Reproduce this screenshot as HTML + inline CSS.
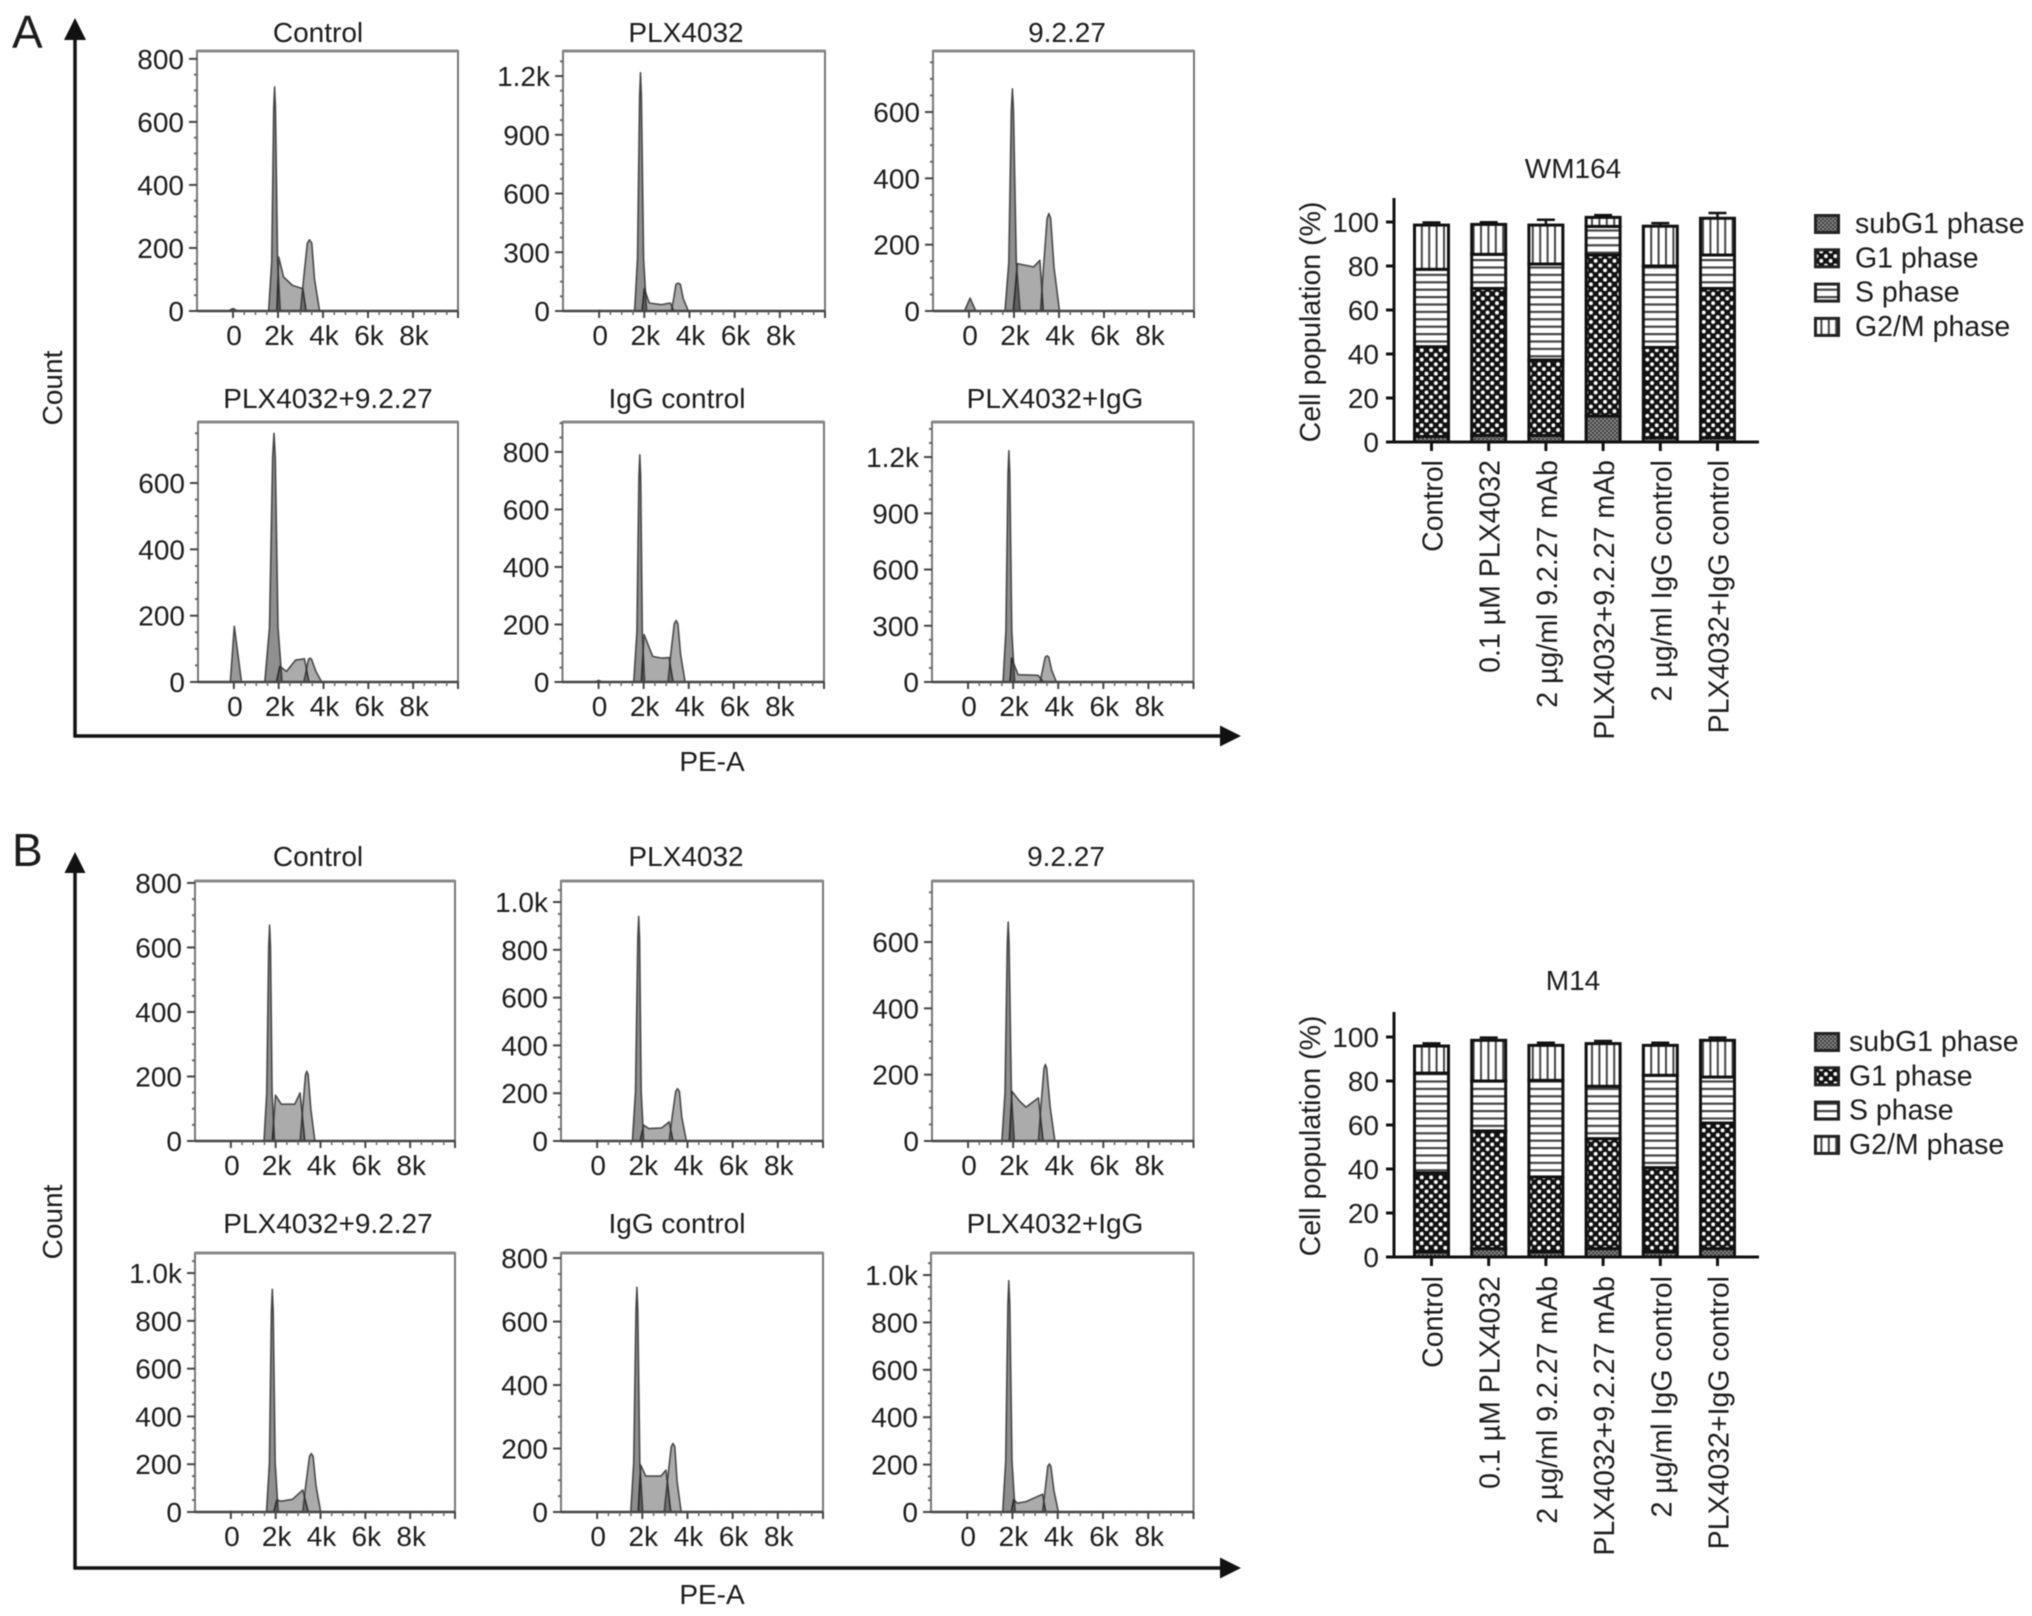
<!DOCTYPE html>
<html>
<head>
<meta charset="utf-8">
<title>Cell cycle flow cytometry</title>
<style>
html,body{margin:0;padding:0;background:#fff;}
svg{display:block;filter:blur(0.55px);}
text{font-family:"Liberation Sans",Arial,sans-serif;fill:#1c1c1c;font-size:28px;}
</style>
</head>
<body>
<svg id="fig" xmlns="http://www.w3.org/2000/svg" width="2032" height="1616" viewBox="0 0 2032 1616">
<defs>
<pattern id="pat-sub" patternUnits="userSpaceOnUse" width="4" height="4"><rect width="4" height="4" fill="#8a8a8a"/><rect width="2" height="2" fill="#3c3c3c"/><rect x="2" y="2" width="2" height="2" fill="#3c3c3c"/></pattern>
<pattern id="pat-g1" patternUnits="userSpaceOnUse" width="9.4" height="9.4"><rect width="9.4" height="9.4" fill="#111"/><circle cx="2.35" cy="2.35" r="1.95" fill="#fff"/><circle cx="7.05" cy="7.05" r="1.95" fill="#fff"/></pattern>
<pattern id="pat-s" patternUnits="userSpaceOnUse" width="8" height="7.4"><rect width="8" height="7.4" fill="#fff"/><rect y="0" width="8" height="2.2" fill="#444"/></pattern>
<pattern id="pat-g2" patternUnits="userSpaceOnUse" width="7.4" height="8"><rect width="7.4" height="8" fill="#fff"/><rect x="0" width="2" height="8" fill="#444"/></pattern>
</defs>
<rect width="2032" height="1616" fill="#fff"/>
<text x="12" y="48" style="font-size:46px">A</text>
<text x="12" y="866" style="font-size:46px">B</text>
<g stroke="#111" stroke-width="3.5" fill="#111">
<line x1="75" y1="38" x2="75" y2="737"/>
<line x1="73.5" y1="736" x2="1222" y2="736"/>
<polygon stroke="none" points="75,18 64,40 86,40"/>
<polygon stroke="none" points="1241,736 1220,725.5 1220,746.5"/>
</g>
<g stroke="#111" stroke-width="3.5" fill="#111">
<line x1="75" y1="871" x2="75" y2="1569"/>
<line x1="73.5" y1="1568" x2="1222" y2="1568"/>
<polygon stroke="none" points="75,852 64.5,873 85.5,873"/>
<polygon stroke="none" points="1241,1568 1220,1557.5 1220,1578.5"/>
</g>
<text text-anchor="middle" transform="translate(62,388) rotate(-90)">Count</text>
<text text-anchor="middle" transform="translate(62,1222) rotate(-90)">Count</text>
<text text-anchor="middle" x="712" y="771">PE-A</text>
<text text-anchor="middle" x="712" y="1604">PE-A</text>
<g id="hist-layer"></g>
<g id="bar-layer"></g>
</svg>
<script>
// ---------- histogram data (PE-A in thousands, counts) ----------
const panelTitles = ['Control','PLX4032','9.2.27','PLX4032+9.2.27','IgG control','PLX4032+IgG','Control','PLX4032','9.2.27','PLX4032+9.2.27','IgG control','PLX4032+IgG'];
const xTickValues = [0,2,4,6,8];
const xTickLabels = ['0','2k','4k','6k','8k'];
const yTickValues = [
 [0,200,400,600,800],[0,300,600,900,1200],[0,200,400,600],
 [0,200,400,600],[0,200,400,600,800],[0,300,600,900,1200],
 [0,200,400,600,800],[0,200,400,600,800,1000],[0,200,400,600],
 [0,200,400,600,800,1000],[0,200,400,600,800],[0,200,400,600,800,1000]];
const yTickLabels = [
 ['0','200','400','600','800'],['0','300','600','900','1.2k'],['0','200','400','600'],
 ['0','200','400','600'],['0','200','400','600','800'],['0','300','600','900','1.2k'],
 ['0','200','400','600','800'],['0','200','400','600','800','1.0k'],['0','200','400','600'],
 ['0','200','400','600','800','1.0k'],['0','200','400','600','800'],['0','200','400','600','800','1.0k']];
const yDomainMax = [825,1328,784,784,904,1387,806,1088,784,1084,816,1093];
const debrisX = [[-0.2,0,0.2],[-0.1,0,0.1],[-0.2,0.05,0.3],[-0.16,0.02,0.34],[-0.15,0,0.15],[-0.1,0,0.1],[-0.1,0,0.1],[-0.1,0,0.1],[-0.1,0,0.1],[-0.1,0,0.1],[-0.1,0,0.1],[-0.1,0,0.1]];
const debrisY = [[0,8,0],[0,3,0],[0,39,0],[0,168,0],[0,6,0],[0,2,0],[0,1,0],[0,3,0],[0,1,0],[0,3,0],[0,1,0],[0,2,0]];
const g1X = [
 [1.58,1.72,1.81,1.85,1.89,1.98,2.1],[1.57,1.7,1.79,1.83,1.87,1.97,2.1],[1.6,1.77,1.88,1.93,1.98,2.1,2.27],
 [1.38,1.59,1.73,1.79,1.85,1.97,2.15],[1.56,1.7,1.79,1.83,1.87,1.94,2.04],[1.55,1.68,1.77,1.81,1.85,1.94,2.07],
 [1.48,1.6,1.69,1.73,1.77,1.84,1.95],[1.56,1.7,1.8,1.84,1.88,1.95,2.06],[1.5,1.64,1.74,1.78,1.82,1.92,2.05],
 [1.59,1.72,1.81,1.85,1.89,1.98,2.11],[1.49,1.62,1.72,1.76,1.8,1.89,2.02],[1.57,1.7,1.8,1.84,1.88,1.98,2.12]];
const g1Y = [
 [0,156,640,711,640,156,0],[0,268,1095,1217,1095,268,0],[0,147,603,670,603,147,0],
 [0,165,675,750,675,165,0],[0,174,711,790,711,174,0],[0,271,1111,1234,1111,271,0],
 [0,147,602,669,602,147,0],[0,207,846,940,846,207,0],[0,145,594,660,594,145,0],
 [0,205,839,932,839,205,0],[0,156,637,708,637,156,0],[0,215,878,976,878,215,0]];
const sX = [
 [1.95,2.03,2.25,2.65,3.1,3.25],[1.9,2.0,2.22,2.75,3.15,3.3],[1.97,2.15,2.87,3.15,3.3],
 [1.9,2.05,2.35,2.75,3.15,3.35],[1.9,2.02,2.4,2.8,3.13,3.3],[1.86,1.93,2.22,3.1,3.35],
 [1.85,1.99,2.25,2.85,3.09,3.3],[1.9,2.06,2.29,2.86,3.19,3.36],[1.83,1.95,2.26,2.57,3.12,3.33],
 [1.91,2.05,2.25,2.75,3.21,3.45],[1.82,1.93,2.15,2.82,3.05,3.26],[1.95,2.05,2.22,2.6,3.33,3.47]];
const sY = [
 [0,171,108,81,71,0],[0,114,41,32,41,0],[0,143,133,153,0],
 [0,47,32,66,70,0],[0,165,89,83,85,0],[0,128,39,36,0],
 [0,142,114,114,149,0],[0,66,52,55,80,0],[0,150,122,102,130,0],
 [0,50,45,53,92,0],[0,148,113,113,132,0],[0,53,37,44,75,0]];
const g2X = [
 [3.0,3.14,3.3,3.4,3.5,3.62,3.85],[3.2,3.3,3.4,3.5,3.6,3.72,3.95],[3.18,3.31,3.47,3.55,3.63,3.78,4.02],
 [3.12,3.22,3.33,3.4,3.47,3.66,3.92],[3.08,3.2,3.36,3.44,3.52,3.64,3.84],[3.19,3.3,3.42,3.5,3.58,3.71,3.92],
 [3.09,3.2,3.33,3.39,3.45,3.57,3.75],[3.19,3.32,3.48,3.56,3.64,3.75,3.95],[3.12,3.23,3.37,3.43,3.49,3.64,3.85],
 [3.21,3.34,3.51,3.59,3.67,3.8,4.01],[2.97,3.11,3.28,3.36,3.44,3.54,3.72],[3.33,3.44,3.56,3.63,3.7,3.83,4.03]];
const g2Y = [
 [0,102,215,226,215,102,0],[0,64,136,143,136,64,0],[0,132,279,294,279,132,0],
 [0,32,68,72,68,32,0],[0,96,203,214,203,96,0],[0,63,133,140,133,63,0],
 [0,97,205,216,205,97,0],[0,99,208,219,208,99,0],[0,104,219,231,219,104,0],
 [0,110,233,245,233,110,0],[0,97,205,216,205,97,0],[0,91,193,203,193,91,0]];

// ---------- stacked bar data (percent) ----------
const barCategories = ['Control','0.1 µM PLX4032','2 µg/ml 9.2.27 mAb','PLX4032+9.2.27 mAb','2 µg/ml IgG control','PLX4032+IgG control'];
const phaseNames = ['subG1 phase','G1 phase','S phase','G2/M phase'];
const barTicks = [0,20,40,60,80,100];
const wmSubG1 = [2.5,3,3,11.8,2,2];
const wmG1 = [40.8,66.8,34.3,73.2,41,67.8];
const wmS = [35.2,15.5,43.6,13,37,15.2];
const wmG2M = [20.1,13.6,17.7,4.1,18.1,16.7];
const wmErrSub = [1,1,1,3,1,1];
const wmErrG1 = [2,2,1,3,1.5,1.5];
const wmErrS = [1.5,1.5,1,0.5,1,1.5];
const wmErrG2M = [1.2,1,2.4,1,1.4,2.4];
const mSubG1 = [2.3,3.8,2.3,3.8,2.3,3.8];
const mG1 = [35.9,53.5,34.1,50,38.3,57.1];
const mS = [45.4,22.7,43.9,23.8,42,20.9];
const mG2M = [12.3,18.5,15.9,19.4,13.6,16.7];
const mErrSub = [0.8,0.8,0.8,0.8,0.8,0.8];
const mErrG1 = [1,1.5,1.5,1,1.5,1];
const mErrS = [1,0.8,0.8,1,1,1];
const mErrG2M = [1.2,1.2,1.2,1.2,1.2,1.2];

// ---------- layout (not data) ----------
const SVGNS = 'http://www.w3.org/2000/svg';
const panelLeft = [197,563,933,198,562.5,932,195,561,932,195,561,931];
const panelRight = [458,825,1194,458,824,1193.5,455,823,1193.5,455,823,1193.5];
const panelTop = [51,51,51,422,422,422,881,881,881,1253,1253,1253];
const panelBottom = [311,311,311,682,682,682,1141,1141,1141,1512,1512,1512];
const titleCenter = [318,686,1067,328,677,1055,318,686,1066,328,677,1055];
const titleBase = [42,42,42,408,408,408,866,866,866,1233,1233,1233];
const X_MIN = -1.6, X_MAX = 10;

function mk(tag, attrs, parent, txt){
  const el = document.createElementNS(SVGNS, tag);
  for (const k in attrs) el.setAttribute(k, attrs[k]);
  if (txt !== undefined) el.textContent = txt;
  parent.appendChild(el);
  return el;
}
function slug(s){ return s.toLowerCase().replace(/[^a-z0-9]+/g,'-'); }

function drawHistogram(i, root){
  const L = panelLeft[i], R = panelRight[i], T = panelTop[i], B = panelBottom[i];
  const sx = v => L + (v - X_MIN) / (X_MAX - X_MIN) * (R - L);
  const sy = v => B - v / yDomainMax[i] * (B - T);
  const g = mk('g', {}, root);
  
  

  const title = mk('text', {x:titleCenter[i], y:titleBase[i], 'text-anchor':'middle'}, g, panelTitles[i]);
  
  

  const frame = mk('rect', {x:L, y:T, width:R-L, height:B-T, fill:'#fff', stroke:'#777', 'stroke-width':2}, g);
  
  
  const topEdge = mk('line', {x1:L, x2:R, y1:T, y2:T, stroke:'#888', 'stroke-width':3}, g);
  
  

  const series = [
    [debrisX[i], debrisY[i], 0.4, 'debris-peak'],
    [sX[i], sY[i], 0.33, 's-phase-area'],
    [g1X[i], g1Y[i], 0.44, 'g1-peak'],
    [g2X[i], g2Y[i], 0.33, 'g2-peak']
  ];
  series.forEach(function(s){
    const pts = s[0].map(function(x, j){ return sx(x).toFixed(1) + ',' + sy(s[1][j]).toFixed(1); }).join(' ');
    const poly = mk('polygon', {points:pts, fill:'#000', 'fill-opacity':s[2], stroke:'#333', 'stroke-width':1.6, 'stroke-opacity':0.85, 'stroke-linejoin':'round'}, g);
    
    
  });

  const base = mk('line', {x1:L, x2:R, y1:B, y2:B, stroke:'#444', 'stroke-width':2.5}, g);
  
  

  xTickValues.concat([10]).forEach(function(v, j){
    const t = mk('line', {x1:sx(v), x2:sx(v), y1:B, y2:B+7, stroke:'#444', 'stroke-width':2}, g);
    
    
    if (j < xTickLabels.length){
      const lab = mk('text', {x:sx(v)+1, y:B+34, 'text-anchor':'middle'}, g, xTickLabels[j]);
      
      
    }
    if (v < 10){
      for (let m = 1; m < 4; m++){
        const mt = mk('line', {x1:sx(v+m*0.5), x2:sx(v+m*0.5), y1:B, y2:B+4, stroke:'#666', 'stroke-width':1.5}, g);
        
        
      }
    }
  });

  const yv = yTickValues[i];
  const step = yv[1] - yv[0];
  yv.forEach(function(v, j){
    const y = sy(v);
    const t = mk('line', {x1:L-8, x2:L, y1:y, y2:y, stroke:'#444', 'stroke-width':2}, g);
    
    
    const lab = mk('text', {x:L-13, y:y+10, 'text-anchor':'end'}, g, yTickLabels[i][j]);
    
    
    for (let m = 1; m < 4; m++){
      const val = v + m*step/4;
      if (val < yDomainMax[i]){
        const mt = mk('line', {x1:L-3, x2:L, y1:sy(val), y2:sy(val), stroke:'#666', 'stroke-width':2}, g);
        
        
      }
    }
  });
}

function drawBars(cfg, root){
  const sy = v => cfg.y0 - v * 2.2;
  const sx = i => 1431.5 + 57.2 * i;
  const g = mk('g', {}, root);
  
  

  const title = mk('text', {x:1573, y:cfg.titleY, 'text-anchor':'middle'}, g, cfg.title);
  
  

  const ylab = mk('text', {'text-anchor':'middle', transform:'translate(1320,' + cfg.ylabY + ') rotate(-90)', style:'font-size:28.5px'}, g, 'Cell population (%)');
  
  

  const stacks = [[cfg.sub, cfg.eSub, 'pat-sub', 'subg1'], [cfg.g1, cfg.eG1, 'pat-g1', 'g1'], [cfg.s, cfg.eS, 'pat-s', 's'], [cfg.g2, cfg.eG2, 'pat-g2', 'g2m']];
  barCategories.forEach(function(cat, i){
    let cum = 0;
    const c = sx(i);
    stacks.forEach(function(st){
      const v = st[0][i];
      const r = mk('rect', {x:c-17, y:sy(cum+v), width:34, height:v*2.2, fill:'url(#' + st[2] + ')', stroke:'#111', 'stroke-width':3}, g);
      
      
      cum += v;
      const e = st[1][i];
      const eb = mk('path', {d:'M' + c + ' ' + sy(cum) + 'V' + sy(cum+e) + 'M' + (c-9) + ' ' + sy(cum+e) + 'H' + (c+9), stroke:'#111', 'stroke-width':2.5, fill:'none'}, g);
      
      
    });
    const t = mk('line', {x1:c, x2:c, y1:cfg.y0, y2:cfg.y0+9, stroke:'#111', 'stroke-width':3}, g);
    
    
    const lab = mk('text', {'text-anchor':'end', transform:'translate(' + (c+11) + ',' + cfg.labY + ') rotate(-90)', style:'font-size:28.5px'}, g, cat);
    
    
  });

  const ax = mk('line', {x1:1394, x2:1394, y1:cfg.axisTop, y2:cfg.y0+1.5, stroke:'#111', 'stroke-width':3}, g);
  
  
  const xax = mk('line', {x1:1386, x2:1759, y1:cfg.y0, y2:cfg.y0, stroke:'#111', 'stroke-width':3}, g);
  
  
  barTicks.forEach(function(v){
    const t = mk('line', {x1:1386, x2:1394, y1:sy(v), y2:sy(v), stroke:'#111', 'stroke-width':3}, g);
    
    
    const lab = mk('text', {x:1379, y:sy(v)+10, 'text-anchor':'end'}, g, String(v));
    
    
  });

  const pats = ['pat-sub','pat-g1','pat-s','pat-g2'];
  phaseNames.forEach(function(name, i){
    const yc = cfg.legendY + i * cfg.legendStep;
    const sw = mk('rect', {x:1815.5, y:yc-8.5, width:23, height:17, fill:'url(#' + pats[i] + ')', stroke:'#222', 'stroke-width':3}, g);
    
    
    const tx = mk('text', {x:cfg.legendX, y:yc+9, style:'font-size:28.5px'}, g, name);
    
    
  });
}

const histLayer = document.getElementById('hist-layer');
panelTitles.forEach(function(_, i){ drawHistogram(i, histLayer); });
const barLayer = document.getElementById('bar-layer');
drawBars({title:'WM164', titleY:178, y0:442, axisTop:198, ylabY:322, labY:460, legendY:224, legendStep:34.3, legendX:1855,
  sub:wmSubG1, g1:wmG1, s:wmS, g2:wmG2M, eSub:wmErrSub, eG1:wmErrG1, eS:wmErrS, eG2:wmErrG2M}, barLayer);
drawBars({title:'M14', titleY:990, y0:1257, axisTop:1012, ylabY:1136, labY:1276, legendY:1042, legendStep:34.3, legendX:1849,
  sub:mSubG1, g1:mG1, s:mS, g2:mG2M, eSub:mErrSub, eG1:mErrG1, eS:mErrS, eG2:mErrG2M}, barLayer);
</script>
</body>
</html>
